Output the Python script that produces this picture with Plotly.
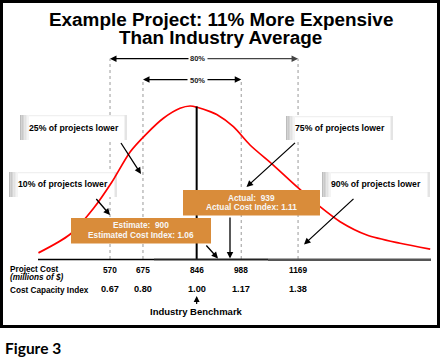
import plotly.graph_objects as go

W, H = 441, 363

# ---------------- data ----------------
curve_cost = [342, 442, 517, 575, 634, 687, 740, 793, 825, 850, 889, 910,
              963, 1016, 1090, 1165, 1239, 1303, 1388, 1494, 1590]
curve_height = [0.04, 0.16, 0.33, 0.50, 0.70, 0.82, 0.92, 0.985, 1.0, 0.99,
                0.963, 0.944, 0.865, 0.745, 0.614, 0.473, 0.342, 0.244,
                0.157, 0.103, 0.065]
cost_ticks = [570, 675, 846, 988, 1169]
index_ticks = ["0.67", "0.80", "1.00", "1.17", "1.38"]
benchmark_cost = 846
range80 = (570, 1169)
range50 = (675, 988)
range_labels = ["80%", "50%"]
percentile_labels = ["25% of projects lower", "10% of projects lower",
                     "75% of projects lower", "90% of projects lower"]
estimate_value, estimate_index = 900, "1.06"
actual_value, actual_index = 939, "1.11"
title_lines = ["Example Project: 11% More Expensive", "Than Industry Average"]
row_labels = ["Project Cost", "(millions of $)", "Cost Capacity Index"]
benchmark_label = "Industry Benchmark"
figure_label = "Figure 3"

# ---------------- layout helpers ----------------
COST0 = 219.5          # cost at left edge of the figure
COST_PER_PX = 3.1857
Y_PER_PX = 1 / 153.0
AXIS_PX = 259.0

def PX(x):
    return x / W

def PY(y):
    return 1 - y / H

def cpx(c):
    return (c - COST0) / COST_PER_PX

ARIAL = "Arial, Liberation Sans, sans-serif"
ORANGE = "#D98C3A"

shapes = []
annotations = []

def rect(x0, y0, x1, y1, fill, layer="below", line=None):
    shapes.append(dict(type="rect", xref="paper", yref="paper",
                       x0=PX(x0), x1=PX(x1), y0=PY(y1), y1=PY(y0),
                       fillcolor=fill, layer=layer,
                       line=line if line else dict(width=0)))

def seg(x0, y0, x1, y1, color, width, dash=None, layer="below"):
    d = dict(type="line", xref="paper", yref="paper",
             x0=PX(x0), x1=PX(x1), y0=PY(y0), y1=PY(y1), layer=layer,
             line=dict(color=color, width=width))
    if dash:
        d["line"]["dash"] = dash
    shapes.append(d)

def text(x, y, s, size, color="black", xanchor="center", family=ARIAL,
         bg=None, xref="paper"):
    a = dict(x=x if xref == "x" else PX(x), y=PY(y), xref=xref, yref="paper",
             text=s, showarrow=False, xanchor=xanchor, yanchor="middle",
             font=dict(size=size, color=color, family=family), borderpad=0)
    if bg:
        a["bgcolor"] = bg
    annotations.append(a)

def arrow(xh, yh, xt, yt, color="black", width=1.3, head=2, size=1.0):
    annotations.append(dict(x=PX(xh), y=PY(yh), xref="paper", yref="paper",
                            ax=xt - xh, ay=yt - yh, axref="pixel", ayref="pixel",
                            text="", showarrow=True, arrowhead=head,
                            arrowsize=size, arrowwidth=width,
                            arrowcolor=color, standoff=0, startstandoff=0))

# ---------------- figure ----------------
fig = go.Figure()

# dashed percentile lines
for c in range80:
    shapes.append(dict(type="line", xref="x", yref="paper", x0=c, x1=c,
                       y0=PY(AXIS_PX), y1=PY(58.7), layer="below",
                       line=dict(color="#9a9a9a", width=1, dash="dot")))
for c in range50:
    shapes.append(dict(type="line", xref="x", yref="paper", x0=c, x1=c,
                       y0=PY(AXIS_PX), y1=PY(79.5), layer="below",
                       line=dict(color="#9a9a9a", width=1, dash="dot")))

# white label boxes with soft gradient edge
boxes = [(20, 115, 127, 140), (9, 172, 117, 197),
         (286, 116, 393, 140), (322, 172, 430, 197)]
grads = ["#bcbcbc", "#c9c9c9", "#d6d6d6", "#e2e2e2", "#ececec", "#f4f4f4"]
for (x0, y0, x1, y1) in boxes:
    rect(x0, y0, x1, y1, "white")
    rect(x0, y0, x1, y0 + 1.2, "#f0f0f0")
    for i, g in enumerate(grads):
        rect(x0 + i * 1.5, y0, x0 + (i + 1) * 1.5, y1, g)
    rect(x1 - 2.5, y0, x1, y1, "#e4e4e4")

# distribution curve
fig.add_trace(go.Scatter(x=curve_cost, y=curve_height, mode="lines",
                         line=dict(color="#FF0000", width=1.7, shape="spline",
                                   smoothing=0.8),
                         hoverinfo="skip", showlegend=False))

# benchmark line
shapes.append(dict(type="line", xref="x", yref="y", x0=benchmark_cost,
                   x1=benchmark_cost, y0=0, y1=0.997, layer="above",
                   line=dict(color="black", width=2)))

# baseline axis
seg(38, AXIS_PX + 0.5, 154, AXIS_PX + 0.5, "black", 1.5, layer="above")
seg(154, AXIS_PX + 0.5, 268, AXIS_PX + 0.5, "#222222", 2, layer="above")
seg(268, AXIS_PX + 0.7, 431, AXIS_PX + 0.7, "#555555", 2.5, layer="above")

# orange callout boxes
rect(71, 218, 211, 243.5, ORANGE, layer="above")
rect(183, 190, 320, 215.5, ORANGE, layer="above")

fig.update_layout(shapes=shapes)

# title
text(221, 19.5, "<b>%s</b>" % title_lines[0], 18.9)
text(221, 37, "<b>%s</b>" % title_lines[1], 18.9)

# range arrows
arrow(cpx(range80[0]), 58.7, 190, 58.7)
arrow(cpx(range80[1]), 58.7, 206, 58.7, color="#444444")
text(197.5, 59, "<b>%s</b>" % range_labels[0], 7.5, color="#222222")
arrow(cpx(range50[0]), 79.6, 189, 79.6)
arrow(cpx(range50[1]), 79.6, 206, 79.6)
text(197.5, 80.3, "<b>%s</b>" % range_labels[1], 7.5, color="#222222")

# percentile labels
text(73.5, 128.3, "<b>%s</b>" % percentile_labels[0], 8.7)
text(63.2, 184.3, "<b>%s</b>" % percentile_labels[1], 8.7)
text(340, 127.7, "<b>%s</b>" % percentile_labels[2], 8.7)
text(376, 184.3, "<b>%s</b>" % percentile_labels[3], 8.7)

# percentile arrows
arrow(141, 174, 120, 141.5)
arrow(110, 215, 95, 197.5)
arrow(246.5, 187, 296.5, 141.5)
arrow(304, 244.5, 355, 197.5)

# orange callout text
text(141, 225.2, "<b>Estimate:  %d</b>" % estimate_value, 8.3, color="#f7f7f7")
text(141, 234.5, "<b>Estimated Cost Index: %s</b>" % estimate_index, 8.3,
     color="#f7f7f7")
text(251.5, 197.5, "<b>Actual:  %d</b>" % actual_value, 8.3, color="#f7f7f7")
text(251.5, 206.8, "<b>Actual Cost Index: %s</b>" % actual_index, 8.3,
     color="#f7f7f7")

# callout arrows
arrow(218, 258.5, 205, 244)
arrow(230, 258.5, 230, 216)

# bottom rows
text(9, 269, "<b>%s</b>" % row_labels[0], 8.2, xanchor="left")
text(9, 277, "<b><i>%s</i></b>" % row_labels[1], 8.2, xanchor="left")
text(9, 290, "<b>%s</b>" % row_labels[2], 8.2, xanchor="left")
for c, idx in zip(cost_ticks, index_ticks):
    text(c, 270, "<b>%d</b>" % c, 8.3, xref="x")
    text(c, 289, "<b>%s</b>" % idx, 9.2, xref="x")

arrow(cpx(benchmark_cost), 296, cpx(benchmark_cost), 305.5, width=1.2)
text(cpx(benchmark_cost), 311.8, "<b>%s</b>" % benchmark_label, 9.5)

# outer frame
fig.add_shape(type="rect", xref="paper", yref="paper",
              x0=PX(1.5), x1=PX(438.5), y0=PY(326.5), y1=PY(1.5),
              line=dict(color="black", width=3), layer="above")

text(4, 348, "<b>%s</b>" % figure_label, 15.5, xanchor="left",
     family="Lato, Noto Sans, sans-serif")

fig.update_layout(
    annotations=annotations,
    width=W, height=H, autosize=False,
    margin=dict(l=0, r=0, t=0, b=0, pad=0),
    paper_bgcolor="white", plot_bgcolor="white",
    xaxis=dict(range=[COST0, COST0 + W * COST_PER_PX], visible=False,
               fixedrange=True),
    yaxis=dict(range=[-(H - AXIS_PX) * Y_PER_PX, AXIS_PX * Y_PER_PX],
               visible=False, fixedrange=True),
    showlegend=False,
)

fig.write_html("out.html", config={"displayModeBar": False},
               post_script="document.body.style.margin='0';"
                           "document.body.style.overflow='hidden';")
